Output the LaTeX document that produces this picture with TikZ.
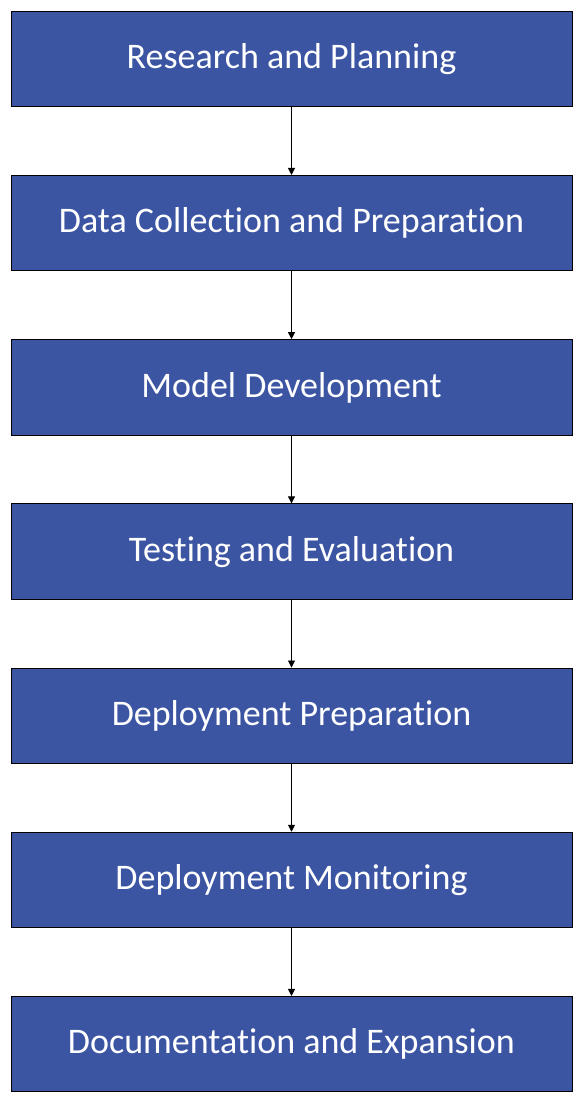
\documentclass[tikz,border=0pt]{standalone}
\usepackage{fontspec}
\setmainfont[RawFeature={-liga}]{Carlito}
\usetikzlibrary{arrows.meta}
\definecolor{boxblue}{HTML}{3B55A3}
\tikzset{
  stepbox/.style={draw=black, line width=1pt, fill=boxblue, text=white,
    minimum width=561pt, minimum height=95.5pt, inner sep=0pt,
    font=\fontsize{36}{40}\selectfont, anchor=north},
  conn/.style={draw=black, line width=0.8pt, -{Triangle[length=7pt,width=7pt]}}
}
\begin{document}
\begin{tikzpicture}[x=1pt,y=1pt]
\useasboundingbox (0,0) rectangle (582,-1103);
\node[stepbox] (b1) at (291.5,-10.75) {Research and Planning};
\node[stepbox] (b2) at (291.5,-174.95) {Data Collection and Preparation};
\node[stepbox] (b3) at (291.5,-339.15) {Model Development};
\node[stepbox] (b4) at (291.5,-503.35) {Testing and Evaluation};
\node[stepbox] (b5) at (291.5,-667.55) {Deployment Preparation};
\node[stepbox] (b6) at (291.5,-831.75) {Deployment Monitoring};
\node[stepbox] (b7) at (291.5,-995.95) {Documentation and Expansion};
\draw[conn] (b1) -- (b2);
\draw[conn] (b2) -- (b3);
\draw[conn] (b3) -- (b4);
\draw[conn] (b4) -- (b5);
\draw[conn] (b5) -- (b6);
\draw[conn] (b6) -- (b7);
\end{tikzpicture}
\end{document}
